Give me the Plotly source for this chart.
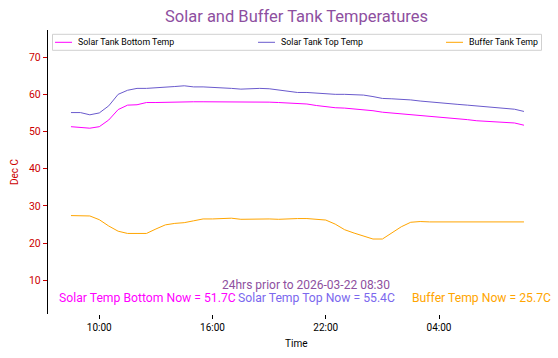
import pandas as pd
import plotly.graph_objects as go

# ---- data (30-minute samples, 24 h before 2026-03-22 08:30) ----
start_time = "2026-03-21 08:30"
n_points = 49
times = pd.date_range(start_time, periods=n_points, freq="30min")

solar_bottom = [51.3, 51.0, 50.9, 51.3, 53.1, 55.9, 57.1, 57.2, 57.8, 57.8,
                57.9, 57.9, 58.0, 58.0, 58.0, 58.0, 58.0, 58.1, 58.0, 57.9,
                57.9, 57.9, 57.8, 57.7, 57.6, 57.4, 57.0, 56.7, 56.4, 56.3,
                56.1, 55.7, 55.6, 55.2, 55.0, 54.7, 54.5, 54.2, 54.0, 53.8,
                53.6, 53.4, 53.2, 52.9, 52.8, 52.7, 52.5, 52.3, 51.7]
solar_top = [55.1, 55.1, 54.5, 55.0, 56.9, 60.0, 61.1, 61.6, 61.6, 61.7,
             62.0, 62.1, 62.3, 62.0, 62.0, 61.9, 61.9, 61.6, 61.4, 61.5,
             61.6, 61.5, 61.2, 60.8, 60.5, 60.5, 60.3, 60.2, 60.0, 60.0,
             60.0, 59.8, 59.4, 58.9, 58.8, 58.7, 58.5, 58.2, 58.0, 57.9,
             57.6, 57.3, 57.1, 56.9, 56.7, 56.4, 56.2, 56.0, 55.4]
buffer_tank = [27.4, 27.4, 27.3, 26.3, 24.6, 23.2, 22.6, 22.6, 22.6, 23.8,
               24.9, 25.3, 25.5, 26.0, 26.5, 26.5, 26.7, 26.7, 26.4, 26.5,
               26.6, 26.5, 26.4, 26.6, 26.6, 26.6, 26.5, 26.2, 25.1, 23.6,
               22.7, 21.8, 21.1, 21.1, 22.8, 24.4, 25.6, 25.8, 25.7, 25.7,
               25.7, 25.7, 25.7, 25.7, 25.7, 25.7, 25.7, 25.7, 25.7]

series_names = ["Solar Tank Bottom Temp", "Solar Tank Top Temp", "Buffer Tank Temp"]
now_labels = ["Solar Temp Bottom Now = 51.7C", "Solar Temp Top Now = 55.4C",
              "Buffer Temp Now = 25.7C"]
subtitle = "24hrs prior to 2026-03-22 08:30"
title = "Solar and Buffer Tank Temperatures"
x_tick_vals = ["2026-03-21 10:00", "2026-03-21 16:00", "2026-03-21 22:00", "2026-03-22 04:00"]
x_tick_text = ["10:00", "16:00", "22:00", "04:00"]
y_tick_vals = [10, 20, 30, 40, 50, 60, 70]

# ---- styling ----
W, H = 558, 358
L, R, T, B = 48, 12, 30, 44
PW, PH = W - L - R, H - T - B
FONT = "Roboto"
line_colors = ["#ff00ff", "#6a5acd", "#ffa500"]
text_colors = ["#ff00ff", "#7b68ee", "#ffa500"]
purple = "#8e4f9f"
red = "#cc0000"


def px(x):
    return (x - L) / PW


def py(y):
    return (H - B - y) / PH


fig = go.Figure()
for vals, name, col in zip([solar_bottom, solar_top, buffer_tank], series_names, line_colors):
    fig.add_trace(go.Scatter(x=times, y=vals, mode="lines", name=name,
                             line=dict(color=col, width=1), showlegend=False))

annotations = []
shapes = []

# title
annotations.append(dict(text=title, x=px(296), y=py(17), xref="paper", yref="paper",
                        showarrow=False, xanchor="center", yanchor="middle",
                        font=dict(family=FONT, size=16.5, color=purple)))
# legend box (matplotlib-style expanded legend)
shapes.append(dict(type="rect", xref="paper", yref="paper", x0=px(52.5), x1=px(541.5),
                   y0=py(50.3), y1=py(34.3), line=dict(color="#d0d0d0", width=1),
                   fillcolor="rgba(255,255,255,0.8)", layer="above"))
leg_line_x = [55, 258, 446]
for lx, name, col in zip(leg_line_x, series_names, line_colors):
    shapes.append(dict(type="line", xref="paper", yref="paper", x0=px(lx), x1=px(lx + 17),
                       y0=py(42.3), y1=py(42.3), line=dict(color=col, width=1), layer="above"))
    annotations.append(dict(text=name, x=px(lx + 21), y=py(42.3), xref="paper", yref="paper",
                            showarrow=False, xanchor="left", yanchor="middle",
                            font=dict(family=FONT, size=8.8, color="#000000")))

# subtitle and "now" annotations
annotations.append(dict(text=subtitle, x=px(306), y=py(285), xref="paper", yref="paper",
                        showarrow=False, xanchor="center", yanchor="middle",
                        font=dict(family=FONT, size=12, color=purple)))
now_x = [57, 236, 410]
for nx, txt, col in zip(now_x, now_labels, text_colors):
    annotations.append(dict(text=txt, x=px(nx), y=py(298), xref="paper", yref="paper",
                            showarrow=False, xanchor="left", yanchor="middle",
                            font=dict(family=FONT, size=12.2, color=col)))

# axis titles
annotations.append(dict(text="Dec C", x=px(14), y=py(172), xref="paper", yref="paper",
                        showarrow=False, textangle=-90, xanchor="center", yanchor="middle",
                        font=dict(family=FONT, size=10, color=red)))
annotations.append(dict(text="Time", x=px(296), y=py(343), xref="paper", yref="paper",
                        showarrow=False, xanchor="center", yanchor="middle",
                        font=dict(family=FONT, size=10, color="#000000")))

fig.update_layout(
    width=W, height=H,
    margin=dict(l=L, r=R, t=T, b=B, pad=0),
    paper_bgcolor="white", plot_bgcolor="white",
    font=dict(family=FONT),
    annotations=annotations, shapes=shapes,
    showlegend=False,
    xaxis=dict(range=["2026-03-21 07:17", "2026-03-22 09:40"],
               tickvals=x_tick_vals, ticktext=x_tick_text, automargin=False,
               showgrid=False, zeroline=False, showline=False,
               ticks="outside", ticklen=4, tickwidth=1, tickcolor="black",
               tickfont=dict(family=FONT, size=10, color="black")),
    yaxis=dict(range=[0.94, 77.3], tickvals=y_tick_vals, automargin=False,
               showgrid=False, zeroline=False, showline=True,
               linecolor="black", linewidth=1.3,
               ticks="outside", ticklen=4, tickwidth=1, tickcolor=red,
               tickfont=dict(family=FONT, size=10.5, color=red)),
)

fig.write_html("out.html", config={"displayModeBar": False},
               post_script="document.body.style.margin='0';document.body.style.overflow='hidden';")
